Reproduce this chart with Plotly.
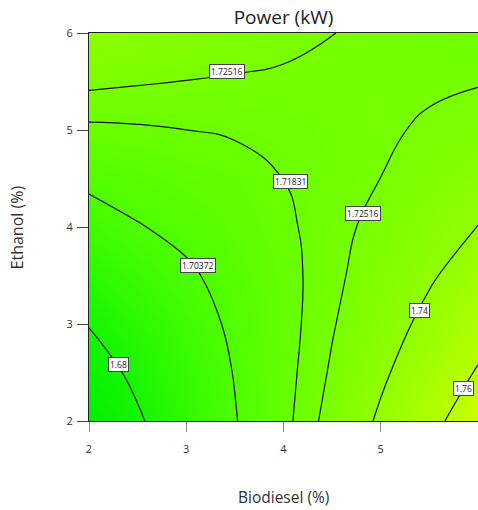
import plotly.graph_objects as go

# Factor levels (%)
biodiesel = [2.0, 2.5, 3.0, 3.5, 4.0, 4.5, 5.0, 5.5, 6.0]
ethanol = [2.0, 2.5, 3.0, 3.5, 4.0, 4.5, 5.0, 5.5, 6.0]

# Predicted power (kW); one row per ethanol level, one column per biodiesel level
power = [
    [1.6662, 1.6782, 1.6905, 1.7030, 1.7158, 1.7288, 1.7421, 1.7556, 1.7694],
    [1.6731, 1.6832, 1.6936, 1.7043, 1.7152, 1.7263, 1.7377, 1.7493, 1.7612],
    [1.6806, 1.6889, 1.6974, 1.7061, 1.7148, 1.7244, 1.7339, 1.7436, 1.7536],
    [1.6887, 1.6951, 1.7017, 1.7085, 1.7152, 1.7230, 1.7306, 1.7385, 1.7466],
    [1.6974, 1.7030, 1.7070, 1.7116, 1.7166, 1.7223, 1.7280, 1.7340, 1.7402],
    [1.7067, 1.7093, 1.7121, 1.7140, 1.7184, 1.7221, 1.7252, 1.7301, 1.7344],
    [1.7166, 1.7173, 1.7183, 1.7195, 1.7209, 1.7226, 1.7240, 1.7262, 1.7292],
    [1.7271, 1.7259, 1.7250, 1.7243, 1.7239, 1.7237, 1.7237, 1.7240, 1.7246],
    [1.7382, 1.7351, 1.7323, 1.7297, 1.7274, 1.7253, 1.7235, 1.7219, 1.7206],
]

# Contour levels that are drawn and labelled
levels = [1.68, 1.70372, 1.71831, 1.72516, 1.74, 1.76]

# Where each level's label box sits (level, x, y); 1.72516 is labelled twice
label_spots = [
    (1.72516, 3.42, 5.60),
    (1.71831, 4.07, 4.47),
    (1.70372, 3.12, 3.60),
    (1.68, 2.30, 2.58),
    (1.72516, 4.82, 4.14),
    (1.74, 5.40, 3.14),
    (1.76, 5.85, 2.34),
]

zmin, zmax = 1.666, 1.770


def stop(v):
    return (v - zmin) / (zmax - zmin)


colorscale = [
    [0.0, "rgb(0,238,0)"],
    [stop(1.68), "rgb(22,246,0)"],
    [stop(1.70), "rgb(70,253,0)"],
    [stop(1.72), "rgb(110,255,0)"],
    [stop(1.74), "rgb(145,255,0)"],
    [1.0, "rgb(205,255,0)"],
]

fig = go.Figure()

# Smooth shaded surface
fig.add_trace(go.Heatmap(
    x=biodiesel, y=ethanol, z=power,
    zmin=zmin, zmax=zmax, colorscale=colorscale,
    zsmooth="best", showscale=False, hoverinfo="skip",
))

# One black iso-line per level
for lvl in levels:
    fig.add_trace(go.Contour(
        x=biodiesel, y=ethanol, z=power,
        autocontour=False,
        contours=dict(start=lvl, end=lvl, size=1, coloring="none"),
        line=dict(color="#111111", width=1.2, smoothing=1.3),
        showscale=False, hoverinfo="skip",
    ))

for lvl, lx, ly in label_spots:
    fig.add_annotation(
        x=lx, y=ly, xref="x", yref="y",
        text=f"{lvl:g}", showarrow=False,
        font=dict(family="Open Sans, sans-serif", size=8.5, color="#222222"),
        bgcolor="white", bordercolor="#444444", borderwidth=1, borderpad=1,
    )

axis_common = dict(
    tickvals=[2, 3, 4, 5, 6],
    ticks="outside",
    tickwidth=1,
    showline=True,
    linecolor="#222222",
    linewidth=1,
    mirror=True,
    showgrid=False,
    zeroline=False,
    tickfont=dict(family="Open Sans, sans-serif", size=11, color="#333333"),
)

fig.update_xaxes(range=[2, 6], ticklen=10, tickcolor="#888888",
                 ticklabelstandoff=8, **axis_common)
fig.update_yaxes(range=[2, 6], ticklen=11, tickcolor="#444444",
                 ticklabelstandoff=2, **axis_common)

fig.add_annotation(
    text="Biodiesel (%)", xref="paper", yref="paper", x=0.5, y=-0.196,
    yanchor="middle", showarrow=False,
    font=dict(family="Open Sans, sans-serif", size=15.5, color="#333333"),
)
fig.add_annotation(
    text="Ethanol (%)", xref="paper", yref="paper", x=-0.184, y=0.5,
    xanchor="center", yanchor="middle", textangle=-90, showarrow=False,
    font=dict(family="Open Sans, sans-serif", size=16, color="#333333"),
)

fig.update_layout(
    width=478, height=510,
    margin=dict(l=89, r=0, t=33, b=89),
    paper_bgcolor="white", plot_bgcolor="white",
    showlegend=False,
    title=dict(
        text="Power (kW)", x=0.5, xref="paper", xanchor="center",
        y=1 - 17 / 510, yref="container", yanchor="middle",
        font=dict(family="Open Sans, sans-serif", size=19, color="#222222"),
    ),
)

fig.write_html("out.html")
